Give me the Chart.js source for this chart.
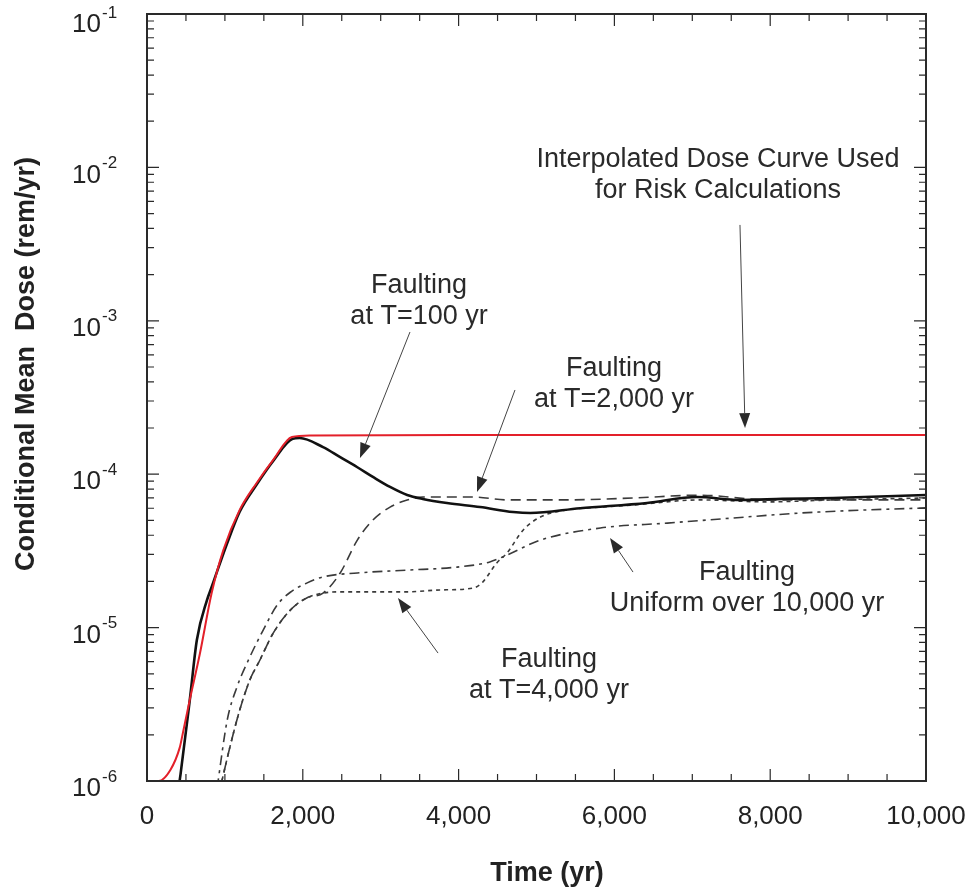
<!DOCTYPE html>
<html>
<head>
<meta charset="utf-8">
<script src="https://cdn.jsdelivr.net/npm/chart.js@4.4.1/dist/chart.umd.min.js"></script>
<style>
  html, body { margin: 0; padding: 0; background: #fff; }
  canvas { display: block; }
</style>
</head>
<body>
<canvas id="doseChart" width="979" height="892"></canvas>
<script>
// ---- data (time in yr, dose in rem/yr) ----
const interpTime = [0, 150, 300, 420, 460, 550, 680, 830, 980, 1190, 1410, 1620, 1860, 2100, 4000, 6000, 8000, 10000];
const interpDose = [1.0e-6, 1.0e-6, 1.18e-6, 1.65e-6, 2.05e-6, 3.4e-6, 6.8e-6, 1.68e-5, 3.2e-5, 5.85e-5, 8.8e-5, 1.24e-4, 1.75e-4, 1.79e-4, 1.8e-4, 1.8e-4, 1.8e-4, 1.8e-4];

const t100Time = [390, 430, 550, 640, 770, 830, 1030, 1190, 1410, 1620, 1870, 1960, 2260, 2480, 2700, 2900, 3120, 3340, 3540, 3850, 4275, 4700, 4920, 5560, 6420, 7060, 7610, 8160, 8810, 10000];
const t100Dose = [8e-7, 1.1e-6, 3.4e-6, 8.3e-6, 1.51e-5, 1.84e-5, 3.56e-5, 5.7e-5, 8.6e-5, 1.22e-4, 1.70e-4, 1.72e-4, 1.50e-4, 1.29e-4, 1.11e-4, 9.6e-5, 8.26e-5, 7.32e-5, 6.9e-5, 6.49e-5, 6.11e-5, 5.67e-5, 5.58e-5, 6.0e-5, 6.49e-5, 7.1e-5, 6.79e-5, 6.9e-5, 7.0e-5, 7.32e-5];

const t2000Time = [940, 1065, 1190, 1320, 1450, 1620, 1840, 2050, 2260, 2480, 2700, 2900, 3120, 3340, 3540, 4190, 4620, 5390, 6240, 7100, 7960, 10000];
const t2000Dose = [9e-7, 1.67e-6, 2.9e-6, 4.55e-6, 6.15e-6, 9.2e-6, 1.30e-5, 1.56e-5, 1.68e-5, 2.27e-5, 3.72e-5, 5.03e-5, 6.1e-5, 6.79e-5, 7.1e-5, 7.1e-5, 6.8e-5, 6.8e-5, 7.0e-5, 7.3e-5, 6.8e-5, 6.8e-5];

const t4000Time = [940, 1065, 1190, 1320, 1450, 1620, 1840, 2050, 2480, 3340, 3760, 4190, 4310, 4490, 4620, 4830, 5050, 5390, 5820, 6240, 7100, 7960, 8810, 10000];
const t4000Dose = [9e-7, 1.67e-6, 2.9e-6, 4.55e-6, 6.15e-6, 9.2e-6, 1.30e-5, 1.56e-5, 1.71e-5, 1.71e-5, 1.76e-5, 1.81e-5, 1.98e-5, 2.64e-5, 3.06e-5, 4.33e-5, 5.26e-5, 5.85e-5, 6.1e-5, 6.3e-5, 6.8e-5, 6.6e-5, 6.8e-5, 7.0e-5];

const uniformTime = [900, 1030, 1155, 1320, 1490, 1670, 1840, 2050, 2260, 2700, 3340, 3980, 4400, 4620, 5050, 5820, 6680, 7520, 8380, 9240, 10000];
const uniformDose = [9e-7, 2.5e-6, 4.1e-6, 6.43e-6, 9.6e-6, 1.4e-5, 1.7e-5, 1.95e-5, 2.14e-5, 2.27e-5, 2.37e-5, 2.48e-5, 2.68e-5, 2.97e-5, 3.72e-5, 4.46e-5, 4.8e-5, 5.18e-5, 5.58e-5, 5.85e-5, 6.03e-5];

const xTickLabels = ["0", "2,000", "4,000", "6,000", "8,000", "10,000"];
const yTickExponents = [-1, -2, -3, -4, -5, -6];

// annotation text, label centre [time, log10 dose], arrow tail and head
const notes = [
  { lines: ["Interpolated Dose Curve Used", "for Risk Calculations"], at: [7330, -1.952], from: [7612, -2.375], to: [7677, -3.699] },
  { lines: ["Faulting", "at T=100 yr"], at: [3492, -2.767], from: [3376, -3.073], to: [2734, -3.894] },
  { lines: ["Faulting", "at T=2,000 yr"], at: [5995, -3.308], from: [4724, -3.451], to: [4236, -4.116] },
  { lines: ["Faulting", "Uniform over 10,000 yr"], at: [7702, -4.638], from: [6239, -4.638], to: [5944, -4.416] },
  { lines: ["Faulting", "at T=4,000 yr"], at: [5160, -5.211], from: [3736, -5.166], to: [3222, -4.807] }
];

const FONT = '"Liberation Sans", Arial, Helvetica, sans-serif';

function toPoints(times, doses) {
  return times.map((t, i) => ({ x: t, y: doses[i] }));
}

function curve(label, times, doses, color, width, dash) {
  return {
    label: label,
    data: toPoints(times, doses),
    borderColor: color,
    borderWidth: width,
    borderDash: dash,
    pointRadius: 0,
    fill: false,
    cubicInterpolationMode: "monotone"
  };
}

function drawArrow(ctx, x1, y1, x2, y2) {
  const a = Math.atan2(y2 - y1, x2 - x1);
  const len = 15, half = 5.5;
  const bx = x2 - len * Math.cos(a), by = y2 - len * Math.sin(a);
  ctx.beginPath();
  ctx.moveTo(x1, y1);
  ctx.lineTo(bx, by);
  ctx.stroke();
  ctx.beginPath();
  ctx.moveTo(x2, y2);
  ctx.lineTo(bx + half * Math.sin(a), by - half * Math.cos(a));
  ctx.lineTo(bx - half * Math.sin(a), by + half * Math.cos(a));
  ctx.closePath();
  ctx.fill();
}

const frameAndText = {
  id: "frameAndText",
  afterDraw(chart) {
    const ctx = chart.ctx;
    const xs = chart.scales.x, ys = chart.scales.y;
    const area = chart.chartArea;
    ctx.save();
    ctx.strokeStyle = "#2a2a2a";
    ctx.fillStyle = "#2a2a2a";

    // frame
    ctx.lineWidth = 2;
    ctx.strokeRect(area.left, area.top, area.right - area.left, area.bottom - area.top);

    // x ticks, inward, bottom and top
    ctx.lineWidth = 1.2;
    for (let v = xs.min; v <= xs.max; v += 500) {
      const px = xs.getPixelForValue(v);
      const len = v % 2000 === 0 ? 12 : 7;
      ctx.beginPath();
      ctx.moveTo(px, area.bottom); ctx.lineTo(px, area.bottom - len);
      ctx.moveTo(px, area.top); ctx.lineTo(px, area.top + len);
      ctx.stroke();
    }
    // y ticks, log, inward, left and right
    const e0 = Math.round(Math.log10(ys.min)), e1 = Math.round(Math.log10(ys.max));
    for (let e = e0; e <= e1; e++) {
      for (let k = 1; k <= 9; k++) {
        const v = k * Math.pow(10, e);
        if (v > ys.max * 1.0001) break;
        const py = ys.getPixelForValue(v);
        const len = k === 1 ? 12 : 7;
        ctx.beginPath();
        ctx.moveTo(area.left, py); ctx.lineTo(area.left + len, py);
        ctx.moveTo(area.right, py); ctx.lineTo(area.right - len, py);
        ctx.stroke();
      }
    }

    // x tick labels
    ctx.fillStyle = "#222";
    ctx.font = "26px " + FONT;
    ctx.textAlign = "center";
    ctx.textBaseline = "middle";
    xTickLabels.forEach((lab, i) => {
      ctx.fillText(lab, xs.getPixelForValue(i * 2000), area.bottom + 36);
    });

    // y tick labels with superscript exponent
    yTickExponents.forEach(e => {
      const py = ys.getPixelForValue(Math.pow(10, e));
      const dy = e === -1 ? 11 : 8;
      ctx.font = "26px " + FONT;
      ctx.textAlign = "right";
      ctx.fillText("10", area.left - 46, py + dy);
      ctx.font = "17px " + FONT;
      ctx.textAlign = "left";
      ctx.fillText(String(e), area.left - 45, py + dy - 12);
    });

    // axis titles
    ctx.font = "bold 27px " + FONT;
    ctx.textAlign = "center";
    ctx.fillText("Time (yr)", 547, 874);
    ctx.save();
    ctx.translate(27, 364);
    ctx.rotate(-Math.PI / 2);
    ctx.fillText("Conditional Mean  Dose (rem/yr)", 0, 0);
    ctx.restore();

    // annotations
    ctx.font = "27px " + FONT;
    ctx.fillStyle = "#2a2a2a";
    ctx.strokeStyle = "#444";
    ctx.lineWidth = 1;
    notes.forEach(n => {
      const cx = xs.getPixelForValue(n.at[0]);
      const cy = ys.getPixelForValue(Math.pow(10, n.at[1]));
      n.lines.forEach((line, i) => ctx.fillText(line, cx, cy + i * 31));
      drawArrow(ctx,
        xs.getPixelForValue(n.from[0]), ys.getPixelForValue(Math.pow(10, n.from[1])),
        xs.getPixelForValue(n.to[0]), ys.getPixelForValue(Math.pow(10, n.to[1])));
    });
    ctx.restore();
  }
};

new Chart(document.getElementById("doseChart"), {
  type: "line",
  data: {
    datasets: [
      curve("Interpolated dose curve", interpTime, interpDose, "#e3202a", 2, []),
      curve("Faulting at T=100 yr", t100Time, t100Dose, "#111", 2.6, []),
      curve("Faulting at T=2,000 yr", t2000Time, t2000Dose, "#3a3a3a", 1.6, [10, 6]),
      curve("Faulting at T=4,000 yr", t4000Time, t4000Dose, "#3a3a3a", 1.6, [4, 4]),
      curve("Faulting uniform over 10,000 yr", uniformTime, uniformDose, "#3a3a3a", 1.6, [10, 5, 3, 5])
    ]
  },
  options: {
    responsive: false,
    animation: false,
    events: [],
    layout: { padding: { top: 14, right: 53, left: 0, bottom: 0 } },
    plugins: { legend: { display: false }, tooltip: { enabled: false } },
    scales: {
      x: {
        type: "linear",
        min: 0,
        max: 10000,
        grid: { display: false },
        border: { display: false },
        ticks: { display: false, stepSize: 500 },
        afterFit: s => { s.height = 111; }
      },
      y: {
        type: "logarithmic",
        min: 1e-6,
        max: 1e-1,
        grid: { display: false },
        border: { display: false },
        ticks: { display: false },
        afterFit: s => { s.width = 147; }
      }
    }
  },
  plugins: [frameAndText]
});
</script>
</body>
</html>
